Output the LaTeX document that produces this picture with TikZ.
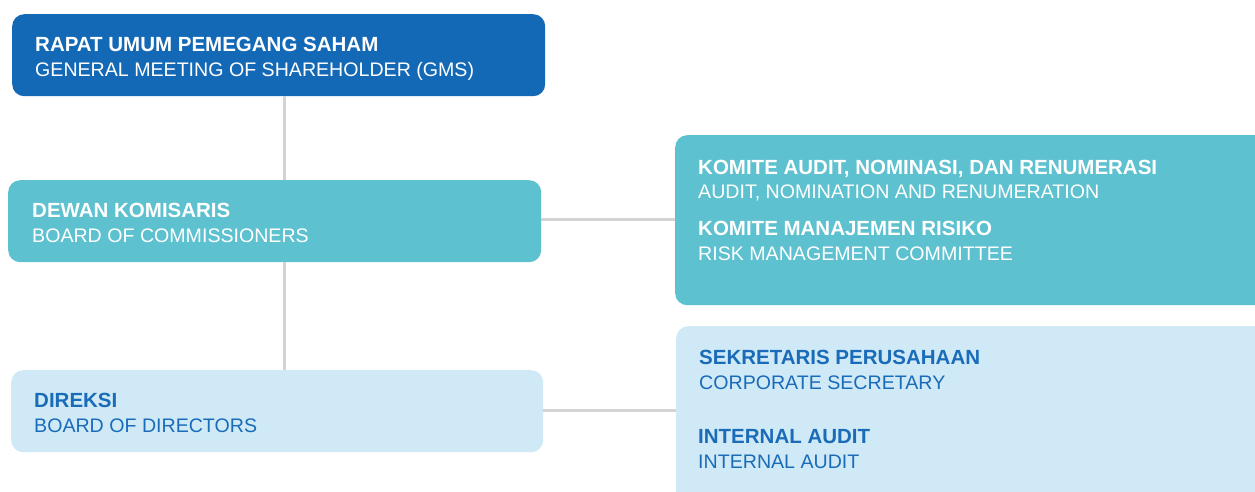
\documentclass[tikz,border=0pt]{standalone}
\usepackage{fontspec}
\setmainfont{Liberation Sans}
\definecolor{darkblue}{HTML}{1469B6}
\definecolor{teal}{HTML}{5EC1D0}
\definecolor{lightblue}{HTML}{CFEAF6}
\definecolor{textblue}{HTML}{1A6BB8}
\definecolor{linegray}{HTML}{D3D3D3}
\begin{document}
\begin{tikzpicture}[x=1pt,y=-1pt,
  box/.style={rounded corners=12pt, inner sep=0pt, anchor=north west},
  ttl/.style={anchor=base west, inner sep=0pt, font=\fontsize{20.5}{24}\selectfont\bfseries},
  sub/.style={anchor=base west, inner sep=0pt, font=\fontsize{19.6}{24}\selectfont},
  conn/.style={draw=linegray, line width=3pt}]
\useasboundingbox (0,0) rectangle (1255,491);
% boxes
\node[box, fill=darkblue, minimum width=533pt, minimum height=82pt] (gms) at (12,14) {};
\node[box, fill=teal, minimum width=533pt, minimum height=82pt] (boc) at (8,180) {};
\node[box, fill=lightblue, minimum width=532pt, minimum height=82pt] (dir) at (11,370) {};
\node[box, fill=teal, minimum width=600pt, minimum height=170pt] (kom) at (675,135) {};
\node[box, fill=lightblue, minimum width=600pt, minimum height=185pt] (sek) at (676,326) {};
% connectors
\coordinate (vx) at (284,0);
\draw[conn] (gms.south -| vx) -- (boc.north -| vx);
\draw[conn] (boc.south -| vx) -- (dir.north -| vx);
\draw[conn] (boc.east |- 0,219) -- (kom.west |- 0,219);
\draw[conn] (dir.east |- 0,410) -- (sek.west |- 0,410);
% texts
\node[ttl, white] (t1) at (35,51) {RAPAT UMUM PEMEGANG SAHAM};
\node[sub, white] (s1) at (35,76) {GENERAL MEETING OF SHAREHOLDER (GMS)};
\node[ttl, white] (t2) at (32,217) {DEWAN KOMISARIS};
\node[sub, white] (s2) at (32,242) {BOARD OF COMMISSIONERS};
\node[ttl, textblue] (t3) at (34,407) {DIREKSI};
\node[sub, textblue] (s3) at (34,432) {BOARD OF DIRECTORS};
\node[ttl, white] (t4) at (698,174) {KOMITE AUDIT, NOMINASI, DAN RENUMERASI};
\node[sub, white] (s4) at (698,198) {AUDIT, NOMINATION AND RENUMERATION};
\node[ttl, white] (t5) at (698,235) {KOMITE MANAJEMEN RISIKO};
\node[sub, white] (s5) at (698,260) {RISK MANAGEMENT COMMITTEE};
\node[ttl, textblue] (t6) at (699,364) {SEKRETARIS PERUSAHAAN};
\node[sub, textblue] (s6) at (699,389) {CORPORATE SECRETARY};
\node[ttl, textblue] (t7) at (698,443) {INTERNAL AUDIT};
\node[sub, textblue] (s7) at (698,468) {INTERNAL AUDIT};
\end{tikzpicture}
\end{document}
